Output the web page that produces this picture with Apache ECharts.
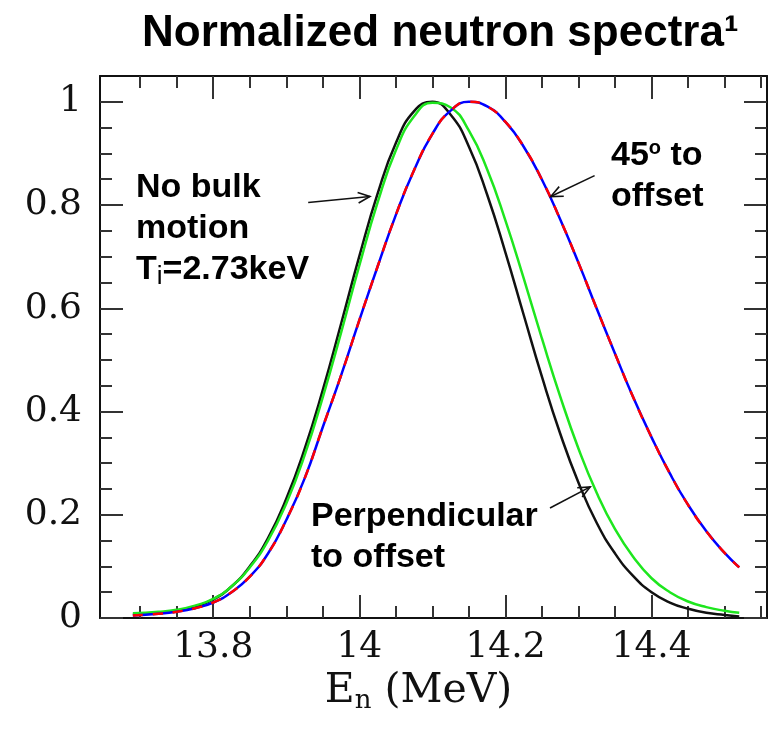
<!DOCTYPE html>
<html><head><meta charset="utf-8">
<script src="https://cdn.jsdelivr.net/npm/echarts@6/dist/echarts.min.js"></script>
<style>html,body{margin:0;padding:0;background:#fff}#c{width:769px;height:731px}</style>
</head><body><div id="c"></div>
<script>
// Neutron energy grid (MeV)
const energy = [13.69, 13.725, 13.75, 13.775, 13.8, 13.825, 13.85, 13.875, 13.9, 13.925,
  13.95, 13.975, 14.0, 14.025, 14.05, 14.075, 14.1, 14.125, 14.15, 14.175,
  14.2, 14.225, 14.25, 14.275, 14.3, 14.325, 14.35, 14.375, 14.4, 14.425,
  14.45, 14.475, 14.5, 14.52];
// No bulk motion, Ti = 2.73 keV (black)
const noBulk = [0.007, 0.01, 0.014, 0.022, 0.036, 0.061, 0.1, 0.155, 0.231, 0.327,
  0.442, 0.57, 0.701, 0.822, 0.92, 0.982, 1.0, 0.975, 0.913, 0.82,
  0.708, 0.587, 0.467, 0.357, 0.262, 0.184, 0.125, 0.081, 0.05, 0.03,
  0.018, 0.01, 0.006, 0.003];
// Perpendicular to offset (green)
const perpendicular = [0.009, 0.012, 0.016, 0.024, 0.037, 0.061, 0.098, 0.15, 0.222, 0.315,
  0.428, 0.553, 0.683, 0.805, 0.906, 0.972, 0.998, 0.989, 0.944, 0.869,
  0.77, 0.658, 0.541, 0.429, 0.328, 0.242, 0.172, 0.118, 0.077, 0.05,
  0.032, 0.021, 0.014, 0.01];
// 45 degrees to offset (red/blue dashed)
const deg45 = [0.005, 0.008, 0.012, 0.019, 0.03, 0.05, 0.08, 0.125, 0.19, 0.27,
  0.37, 0.47, 0.577, 0.681, 0.781, 0.868, 0.938, 0.983, 1.0, 0.991,
  0.961, 0.913, 0.849, 0.772, 0.688, 0.599, 0.512, 0.427, 0.35, 0.28,
  0.219, 0.168, 0.126, 0.098];

const xMajorTicks = [13.8, 14.0, 14.2, 14.4];
const xMinorTicks = [13.7, 13.75, 13.85, 13.9, 13.95, 14.05, 14.1, 14.15, 14.25, 14.3, 14.35, 14.45, 14.5, 14.55];
const yMajorTicks = [0, 0.2, 0.4, 0.6, 0.8, 1.0];
const yMinorTicks = [0.05, 0.1, 0.15, 0.25, 0.3, 0.35, 0.45, 0.5, 0.55, 0.65, 0.7, 0.75, 0.85, 0.9, 0.95];

// annotation arrows [tail, head] in data coordinates
const arrowNoBulk = [[13.93, 0.805], [14.0145, 0.8165]];
const arrow45 = [[14.322, 0.857], [14.262, 0.8165]];
const arrowPerp = [[14.261, 0.213], [14.316, 0.254]];

const X_MIN = 13.645, X_MAX = 14.558, Y_MIN = 0, Y_MAX = 1.05;

const zip = (xs, ys) => xs.map((x, i) => [x, ys[i]]);
const fmt = v => String(Math.round(v * 10) / 10);

const serif = 'DejaVu Serif';
const sans = 'Liberation Sans';
const tickColor = '#333';

function xAx(pos, major, showLine) {
  return {
    type: 'value', min: X_MIN, max: X_MAX, position: pos, gridIndex: 0,
    axisLine: { show: showLine, onZero: false, lineStyle: { color: '#111', width: 2 } },
    axisTick: { show: true, inside: true, length: major ? 23 : 12,
      customValues: major ? xMajorTicks : xMinorTicks,
      lineStyle: { color: tickColor, width: 2 } },
    axisLabel: { show: false },
    splitLine: { show: false }
  };
}
function yAx(pos, major, showLine) {
  return {
    type: 'value', min: Y_MIN, max: Y_MAX, position: pos, gridIndex: 0,
    axisLine: { show: showLine, onZero: false, lineStyle: { color: '#111', width: 2 } },
    axisTick: { show: true, inside: true, length: major ? 23 : 12,
      customValues: major ? yMajorTicks : yMinorTicks,
      lineStyle: { color: tickColor, width: 2 } },
    axisLabel: { show: false },
    splitLine: { show: false }
  };
}

const xBottom = xAx('bottom', true, true);
xBottom.axisLabel = { show: true, customValues: xMajorTicks, formatter: fmt,
  fontFamily: serif, fontSize: 36, color: '#111', margin: 12 };
xBottom.name = '{m|E}{s|n} {m|(MeV)}';
xBottom.nameLocation = 'middle';
xBottom.nameGap = 44;
xBottom.nameTextStyle = { fontFamily: serif, fontSize: 41, color: '#111', padding: [0, 30, 0, 0],
  rich: { m: { fontFamily: serif, fontSize: 41, color: '#111' },
          s: { fontFamily: serif, fontSize: 26, color: '#111', padding: [20, 0, 0, 0] } } };

const yLeft = yAx('left', true, true);
yLeft.axisLabel = { show: true, customValues: yMajorTicks, formatter: fmt,
  fontFamily: serif, fontSize: 36, color: '#111', margin: 18 };

const lineBase = { type: 'line', showSymbol: false, symbol: 'none', smooth: true,
  xAxisIndex: 0, yAxisIndex: 0, animation: false };

const chart = echarts.init(document.getElementById('c'));
chart.setOption({
  backgroundColor: '#fff',
  animation: false,
  title: {
    text: 'Normalized neutron spectra\u00b9', left: 137, top: 7,
    textStyle: { fontFamily: sans, fontWeight: 'bold', fontSize: 44, color: '#000' }
  },
  grid: { left: 100, right: 2, top: 76, bottom: 113, containLabel: false, outerBoundsMode: 'none' },
  xAxis: [xBottom, xAx('bottom', false, false), xAx('top', true, true), xAx('top', false, false)],
  yAxis: [yLeft, yAx('left', false, false), yAx('right', true, true), yAx('right', false, false)],
  series: [
    Object.assign({}, lineBase, { name: 'No bulk motion', data: zip(energy, noBulk),
      lineStyle: { color: '#111', width: 2.5 } }),
    Object.assign({}, lineBase, { name: 'Perpendicular to offset', data: zip(energy, perpendicular),
      lineStyle: { color: '#1ee61e', width: 2.5 } }),
    Object.assign({}, lineBase, { name: '45 deg blue', data: zip(energy, deg45),
      lineStyle: { color: '#0000ff', width: 2.5 } }),
    Object.assign({}, lineBase, { name: '45 deg red', data: zip(energy, deg45),
      lineStyle: { color: '#ff0000', width: 2.5, type: [10, 10] } })
  ]
});

function arrowGraphic(id, tailHead) {
  const t = chart.convertToPixel({ xAxisIndex: 0, yAxisIndex: 0 }, tailHead[0]);
  const h = chart.convertToPixel({ xAxisIndex: 0, yAxisIndex: 0 }, tailHead[1]);
  const ang = Math.atan2(t[1] - h[1], t[0] - h[0]);
  const L = 13, a = 0.42;
  const p1 = [h[0] + L * Math.cos(ang + a), h[1] + L * Math.sin(ang + a)];
  const p2 = [h[0] + L * Math.cos(ang - a), h[1] + L * Math.sin(ang - a)];
  const st = { stroke: '#111', lineWidth: 1.6, fill: null };
  return [
    { type: 'polyline', id: id + 's', shape: { points: [t, h] }, style: st, z: 50 },
    { type: 'polyline', id: id + 'h', shape: { points: [p1, h, p2] }, style: st, z: 50 }
  ];
}

const annFont = { fontFamily: sans, fontWeight: 'bold', fontSize: 34, fill: '#000' };
const mk = (extra) => Object.assign({ fontFamily: sans, fontWeight: 'bold', fontSize: 34, color: '#000', lineHeight: 41 }, extra || {});

chart.setOption({
  graphic: [
    { type: 'text', id: 't1', left: 136, top: 171, z: 60,
      style: Object.assign({}, annFont, {
        text: '{a|No bulk}\n{a|motion}\n{a|T}{s|i}{a|=2.73keV}',
        rich: { a: mk(), s: mk({ fontSize: 26, fontWeight: 'normal', padding: [14, 0, 0, 0], lineHeight: 41 }) }
      }) },
    { type: 'text', id: 't2', left: 611, top: 138, z: 60,
      style: Object.assign({}, annFont, {
        text: '{a|45}{o|o}{a| to}\n{a|offset}',
        rich: { a: mk(), o: mk({ fontSize: 20, padding: [0, 0, 16, 0], lineHeight: 41 }) }
      }) },
    { type: 'text', id: 't3', left: 311, top: 500, z: 60,
      style: Object.assign({}, annFont, {
        text: '{a|Perpendicular}\n{a|to offset}',
        rich: { a: mk() }
      }) }
  ].concat(arrowGraphic('a1', arrowNoBulk), arrowGraphic('a2', arrow45), arrowGraphic('a3', arrowPerp))
});
</script>
</body></html>
